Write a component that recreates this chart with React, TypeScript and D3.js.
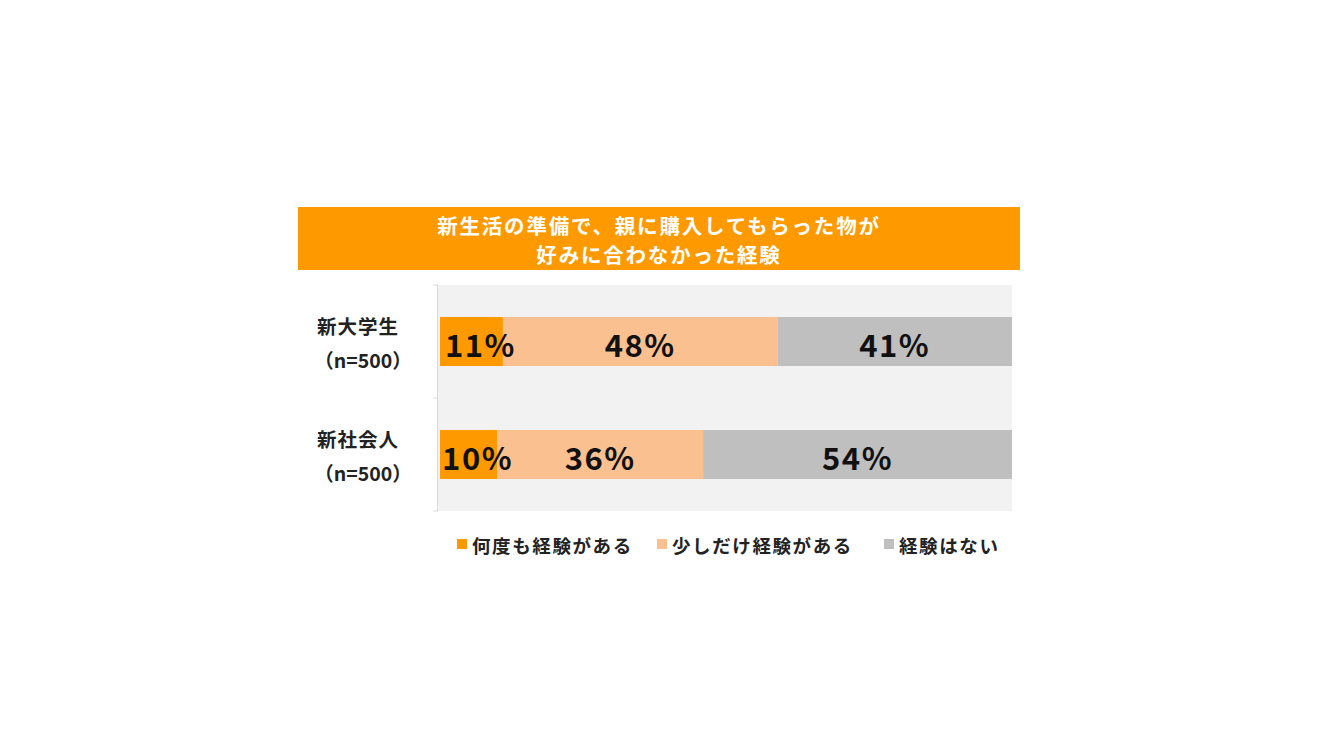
import React from 'react';
import * as d3 from 'd3';

const categories = ['新大学生', '新社会人'];
const sampleLabels = ['（n=500）', '（n=500）'];
const seriesNames = ['何度も経験がある', '少しだけ経験がある', '経験はない'];
const oftenValues = [11, 10];
const littleValues = [48, 36];
const neverValues = [41, 54];
const titleLines = ['新生活の準備で、親に購入してもらった物が', '好みに合わなかった経験'];

const colors = ['#FF9900', '#FAC090', '#BFBFBF'];
const font = '"Noto Sans CJK JP", "Noto Sans", sans-serif';

function App() {
  const width = 1320;
  const height = 743;
  const plot = { left: 438, right: 1012, top: 285, bottom: 511 };

  const rows = categories.map((c, i) => ({
    category: c,
    [seriesNames[0]]: oftenValues[i],
    [seriesNames[1]]: littleValues[i],
    [seriesNames[2]]: neverValues[i],
  }));

  const stacked = d3.stack().keys(seriesNames)(rows as any);

  const x = d3.scaleLinear().domain([0, 100]).range([plot.left + 2, plot.right]);
  const y = d3
    .scaleBand()
    .domain(categories)
    .range([plot.top, plot.bottom])
    .paddingInner(0.566)
    .paddingOuter(0.283);

  const ticks = [plot.top, ...categories.map((c) => (y(c) as number) + y.bandwidth() / 2 + y.step() / 2)];

  const legendX = [457, 657, 884];

  return (
    <div style={{ position: 'absolute', left: 0, top: 0 }}>
      <svg width={width} height={height} style={{ display: 'block', background: '#fff' }}>
        {/* title band */}
        <rect x={298} y={207} width={722} height={63} fill="#FF9900" />
        {titleLines.map((t, i) => (
          <text
            key={t}
            x={659}
            y={225 + i * 29}
            textAnchor="middle"
            dominantBaseline="central"
            fill="#fff"
            fontFamily={font}
            fontWeight={700}
            fontSize={20.5}
            letterSpacing={1.8}
          >
            {t}
          </text>
        ))}

        {/* plot area */}
        <rect
          x={plot.left}
          y={plot.top}
          width={plot.right - plot.left}
          height={plot.bottom - plot.top}
          fill="#F2F2F2"
        />
        <line x1={plot.left - 0.5} x2={plot.left - 0.5} y1={plot.top} y2={plot.bottom} stroke="#D9D9D9" />
        {ticks.map((t, i) => (
          <line key={i} x1={plot.left - 5} x2={plot.left} y1={t} y2={t} stroke="#D9D9D9" />
        ))}

        {/* bars */}
        {stacked.map((s, si) => (
          <g key={s.key} fill={colors[si]}>
            {s.map((d, i) => (
              <rect
                key={i}
                x={x(d[0])}
                y={y(categories[i])}
                width={x(d[1]) - x(d[0])}
                height={y.bandwidth()}
              />
            ))}
          </g>
        ))}

        {/* value labels */}
        {stacked.map((s) =>
          s.map((d, i) => (
            <text
              key={s.key + i}
              x={(x(d[0]) + x(d[1])) / 2 + (s.index === 0 ? 9 : 0)}
              y={(y(categories[i]) as number) + y.bandwidth() / 2 + 2}
              textAnchor="middle"
              dominantBaseline="central"
              fontFamily={font}
              fontWeight={700}
              fontSize={31}
              letterSpacing={1.5}
              fill="#111"
            >
              {d[1] - d[0]}%
            </text>
          ))
        )}

        {/* category labels */}
        {categories.map((c, i) => {
          const cy = (y(c) as number) + y.bandwidth() / 2;
          return (
            <g key={c} fontFamily={font} fontWeight={700} fill="#222" textAnchor="middle">
              <text x={358} y={cy - 16} dominantBaseline="central" fontSize={19.5} letterSpacing={1}>
                {c}
              </text>
              <text x={363} y={cy + 18} dominantBaseline="central" fontSize={19.5}>
                {sampleLabels[i]}
              </text>
            </g>
          );
        })}

        {/* legend */}
        {seriesNames.map((n, i) => (
          <g key={n}>
            <rect x={legendX[i]} y={539} width={10} height={10} fill={colors[i]} />
            <text
              x={legendX[i] + 15}
              y={545}
              dominantBaseline="central"
              fontFamily={font}
              fontWeight={700}
              fontSize={18.5}
              letterSpacing={1.6}
              fill="#222"
            >
              {n}
            </text>
          </g>
        ))}
      </svg>
    </div>
  );
}

export default App;
